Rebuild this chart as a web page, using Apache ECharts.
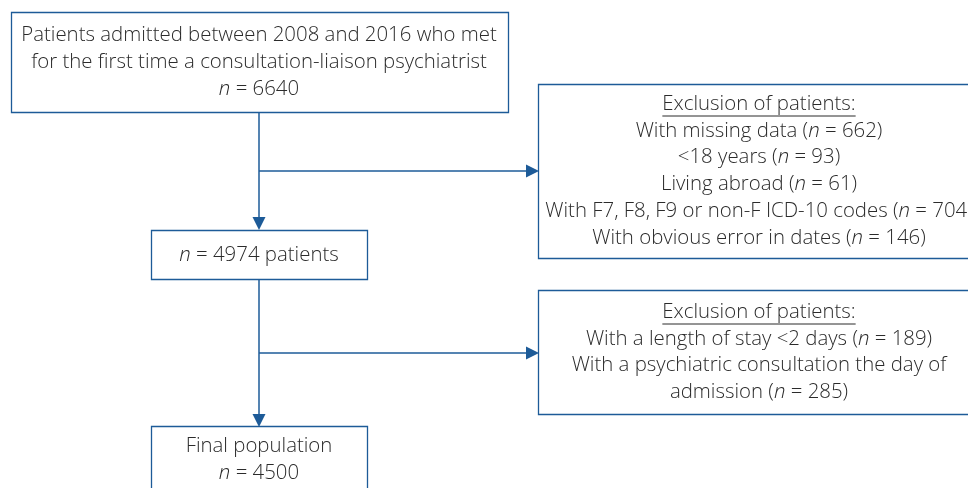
<!DOCTYPE html>
<html><head><meta charset="utf-8">
<script src="https://cdn.jsdelivr.net/npm/echarts@6/dist/echarts.min.js"></script>
<style>html,body{margin:0;padding:0;background:#fff}#c{width:968px;height:488px}</style>
</head><body><div id="c"></div>
<script>
// ---- data ----
const introLines = ['Patients admitted between 2008 and 2016 who met', 'for the first time a consultation-liaison psychiatrist'];
const totalAdmitted = 6640;
const afterFirstExclusion = 4974;
const finalPopulation = 4500;
const exclusionTitle = 'Exclusion of patients:';
const excl1Labels = ['With missing data', '<18 years', 'Living abroad', 'With F7, F8, F9 or non-F ICD-10 codes', 'With obvious error in dates'];
const excl1Counts = [662, 93, 61, 704, 146];
const excl2Labels = ['With a length of stay <2 days', 'With a psychiatric consultation the day of|admission'];
const excl2Counts = [189, 285];
const finalLabel = 'Final population';
const patientsWord = 'patients';

// ---- styling ----
const BLUE = '#1d5b98';
const TXT = '#2b2b2b';
const FONT = '"Open Sans", sans-serif';
const FS = 20.4;
const FW = 300;

const els = [];
function nEq(v) { return '{i|n}{r| = ' + v + '}'; }
const rich = {
  i: { fontStyle: 'italic', fontWeight: FW, fontFamily: FONT, fontSize: FS, fill: TXT },
  r: { fontFamily: FONT, fontWeight: FW, fontSize: FS, fill: TXT }
};
function textLine(x, y, s) {
  els.push({ type: 'text', x: x, y: y, style: { text: s, rich: rich, font: FW + ' ' + FS + 'px ' + FONT, fill: TXT, align: 'center', verticalAlign: 'middle' }, z: 10 });
}
function plain(s) { return '{r|' + s.replace(/[{}|]/g, '') + '}'; }
function box(x, y, w, h) {
  els.push({ type: 'rect', shape: { x: x + 0.5, y: y + 0.5, width: w, height: h }, style: { fill: '#fff', stroke: BLUE, lineWidth: 1.3 }, z: 1 });
}
function line(x1, y1, x2, y2) {
  els.push({ type: 'line', shape: { x1: x1, y1: y1, x2: x2, y2: y2 }, style: { stroke: BLUE, lineWidth: 1.5 }, z: 2 });
}
function arrowDown(x, yTip) {
  els.push({ type: 'polygon', shape: { points: [[x - 6.5, yTip - 13], [x + 6.5, yTip - 13], [x, yTip]] }, style: { fill: BLUE }, z: 3 });
}
function arrowRight(xTip, y) {
  els.push({ type: 'polygon', shape: { points: [[xTip - 13, y - 6.5], [xTip - 13, y + 6.5], [xTip, y]] }, style: { fill: BLUE }, z: 3 });
}
const mctx = document.createElement('canvas').getContext('2d');
mctx.font = FW + ' ' + FS + 'px ' + FONT;
function underlinedTitle(cx, y) {
  textLine(cx, y, plain(exclusionTitle));
  const w = mctx.measureText(exclusionTitle).width;
  els.push({ type: 'line', shape: { x1: cx - w / 2, y1: y + 12, x2: cx + w / 2, y2: y + 12 }, style: { stroke: TXT, lineWidth: 1 }, z: 10 });
}

const LH = 26.8;
// top box
box(11, 12, 497, 100);
textLine(259, 35, plain(introLines[0]));
textLine(259, 62, plain(introLines[1]));
textLine(259, 89, nEq(totalAdmitted));

// connectors
line(259, 113, 259, 218); arrowDown(259, 230);
line(259, 171, 527, 171); arrowRight(539, 171);

// exclusion 1
box(538, 84, 440, 174);
underlinedTitle(759, 104);
excl1Labels.forEach(function (lab, k) {
  textLine(759, 104 + LH * (k + 1), plain(lab + ' (') + nEq(excl1Counts[k]) + '{r|)}');
});

// second box
box(151, 230, 216, 49);
textLine(259, 255, nEq(afterFirstExclusion) + '{r| ' + patientsWord + '}');

line(259, 280, 259, 415); arrowDown(259, 427);
line(259, 353, 527, 353); arrowRight(539, 353);

// exclusion 2
box(538, 290, 440, 124);
underlinedTitle(759, 312);
(function () {
  let row = 1;
  excl2Labels.forEach(function (lab, k) {
    const parts = lab.split('|');
    parts.forEach(function (p, j) {
      const last = j === parts.length - 1;
      const s = last ? plain(p + ' (') + nEq(excl2Counts[k]) + '{r|)}' : plain(p);
      textLine(759, 312 + LH * row, s);
      row++;
    });
  });
})();

// final box
box(151, 426, 216, 80);
textLine(259, 446, plain(finalLabel));
textLine(259, 473, nEq(finalPopulation));

const chart = echarts.init(document.getElementById('c'), null, { renderer: 'canvas' });
chart.setOption({ animation: false, backgroundColor: '#fff', graphic: { elements: els } });
</script></body></html>
